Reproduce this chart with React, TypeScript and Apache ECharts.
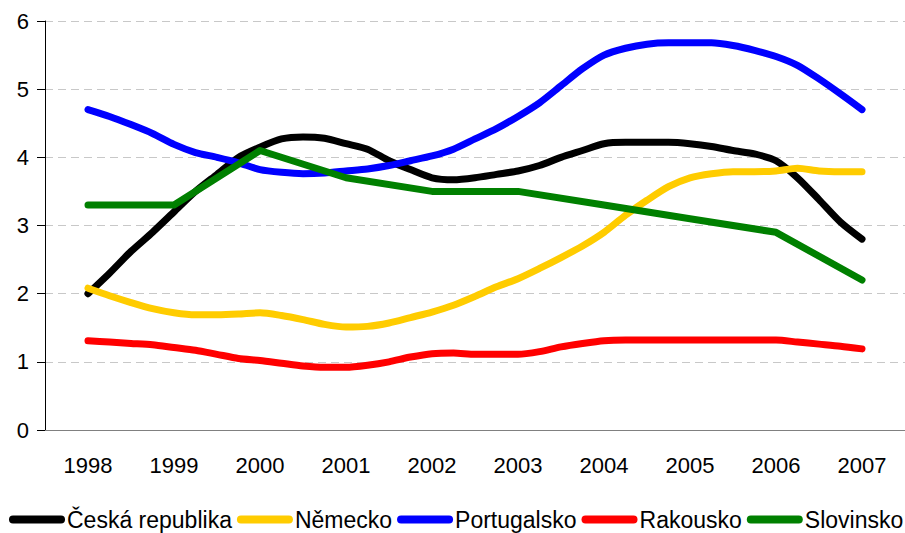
import React, { useEffect, useRef } from "react";
import * as echarts from "echarts";

const years = ["1998", "1999", "2000", "2001", "2002", "2003", "2004", "2005", "2006", "2007"];

// quarterly readings, 1998 Q1 .. 2007 Q1 (37 points)
const ceskaRepublika = [
  2.0, 2.3, 2.62, 2.9, 3.2, 3.5, 3.75, 4.0, 4.15, 4.27, 4.3, 4.28, 4.2, 4.12, 3.95, 3.82, 3.7, 3.67, 3.7,
  3.75, 3.8, 3.88, 4.0, 4.1, 4.2, 4.22, 4.22, 4.22, 4.2, 4.16, 4.1, 4.05, 3.95, 3.7, 3.38, 3.05, 2.8,
];
const nemecko = [
  2.08, 1.97, 1.87, 1.78, 1.72, 1.69, 1.69, 1.7, 1.72, 1.68, 1.62, 1.55, 1.51, 1.52, 1.57, 1.65, 1.73, 1.83,
  1.96, 2.1, 2.22, 2.37, 2.53, 2.7, 2.9, 3.15, 3.37, 3.57, 3.7, 3.76, 3.79, 3.79, 3.8, 3.84, 3.8, 3.79, 3.79,
];
const portugalsko = [
  4.7, 4.6, 4.48, 4.35, 4.19, 4.07, 4.0, 3.92, 3.82, 3.78, 3.76, 3.77, 3.8, 3.83, 3.88, 3.95, 4.02, 4.12,
  4.27, 4.42, 4.6, 4.8, 5.05, 5.3, 5.5, 5.6, 5.66, 5.68, 5.68, 5.68, 5.64, 5.57, 5.48, 5.35, 5.15, 4.93, 4.7,
];
const rakousko = [
  1.31, 1.29, 1.27, 1.25, 1.21, 1.17, 1.11, 1.05, 1.02, 0.98, 0.94, 0.92, 0.92, 0.95, 1.0, 1.07, 1.12, 1.13,
  1.11, 1.11, 1.11, 1.15, 1.22, 1.27, 1.31, 1.32, 1.32, 1.32, 1.32, 1.32, 1.32, 1.32, 1.32, 1.29, 1.26, 1.23, 1.19,
];
// annual readings 1998 .. 2007
const slovinsko = [3.3, 3.3, 4.1, 3.7, 3.5, 3.5, 3.3, 3.1, 2.9, 2.2];

const seriesNames = ["Česká republika", "Německo", "Portugalsko", "Rakousko", "Slovinsko"];
const seriesColors = ["#000000", "#FFCC00", "#0000FF", "#FF0000", "#008000"];

const FONT = "'Liberation Sans', Arial, sans-serif";

export default function App() {
  const ref = useRef<HTMLDivElement>(null);

  useEffect(() => {
    if (!ref.current) return;
    const chart = echarts.init(ref.current, undefined, { renderer: "svg" });

    const quarterly = (arr: number[]) => arr.map((v, i) => [i / 4, v]);
    const annual = (arr: number[]) => arr.map((v, i) => [i, v]);
    const datasets = [
      quarterly(ceskaRepublika),
      quarterly(nemecko),
      quarterly(portugalsko),
      quarterly(rakousko),
      annual(slovinsko),
    ];

    chart.setOption({
      animation: false,
      textStyle: { fontFamily: FONT },
      grid: { left: 45, right: -1, top: 21, bottom: 103, containLabel: false },
      legend: {
        left: 4,
        top: 503,
        width: 960,
        itemWidth: 56,
        itemHeight: 8,
        itemGap: 5,
        selectedMode: false,
        icon: "path://M4,0 L52,0 A4,4 0 0 1 52,8 L4,8 A4,4 0 0 1 4,0 Z",
        textStyle: { fontSize: 23, color: "#000", fontFamily: FONT, padding: [0, 0, 0, -3] },
        data: seriesNames,
      },
      xAxis: [
        {
          type: "category",
          data: years,
          boundaryGap: true,
          axisLine: { show: true, lineStyle: { color: "#808080", width: 1 } },
          axisTick: { show: false },
          axisLabel: { fontSize: 22, color: "#000", margin: 24, fontFamily: FONT },
          splitLine: { show: false },
        },
        {
          type: "value",
          min: -0.5,
          max: 9.5,
          show: false,
        },
      ],
      yAxis: {
        type: "value",
        min: 0,
        max: 6,
        interval: 1,
        axisLine: { show: true, onZero: false, lineStyle: { color: "#000", width: 1 } },
        axisTick: { show: true, length: 8, lineStyle: { color: "#000" } },
        axisLabel: { fontSize: 22, color: "#000", margin: 16, fontFamily: FONT },
        splitLine: { show: true, lineStyle: { color: "#c8c8c8", type: [8, 5], width: 1 } },
      },
      series: seriesNames.map((name, i) => ({
        name,
        type: "line",
        xAxisIndex: 1,
        data: datasets[i],
        color: seriesColors[i],
        showSymbol: false,
        symbol: "none",
        smooth: i === 4 ? false : 0.25,
        lineStyle: { width: 7, color: seriesColors[i], cap: "round", join: "round" },
        itemStyle: { color: seriesColors[i] },
      })),
    });

    return () => chart.dispose();
  }, []);

  return (
    <div
      ref={ref}
      style={{ position: "absolute", left: 0, top: 0, width: 905, height: 533, background: "#fff" }}
    />
  );
}
